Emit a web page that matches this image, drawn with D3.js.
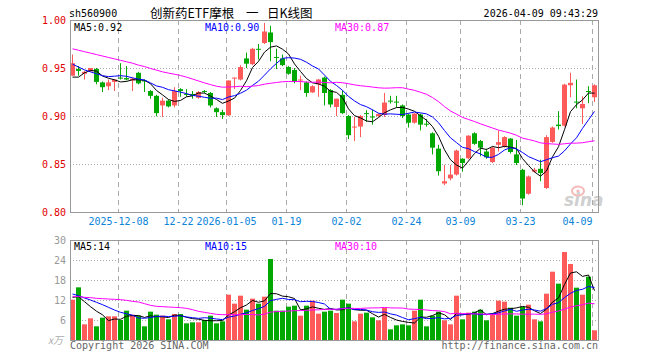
<!DOCTYPE html>
<html>
<head>
<meta charset="utf-8">
<script src="https://cdn.jsdelivr.net/npm/d3@7"></script>
<style>
body { margin: 0; background: #fff; }
text { font-family: "DejaVu Sans Mono", monospace; font-size: 10px; }
</style>
</head>
<body>
<svg id="chart" width="660" height="360"></svg>
<script>
// daily candles, 2025-11-26 .. 2026-04-09 (88 trading days)
var opens = [0.942,0.949,0.944,0.9465,0.949,0.935,0.931,0.9355,0.940,0.9395,
  0.937,0.945,0.937,0.926,0.921,0.911,0.916,0.911,0.928,0.923,
  0.923,0.919,0.926,0.924,0.908,0.904,0.9007,0.939,0.938,0.960,
  0.954,0.970,0.976,0.987,0.9615,0.960,0.951,0.948,0.937,0.935,
  0.9246,0.933,0.940,0.927,0.9094,0.922,0.900,0.888,0.889,0.903,
  0.8995,0.900,0.901,0.916,0.915,0.911,0.9015,0.893,0.9015,0.892,
  0.882,0.866,0.8297,0.835,0.839,0.8555,0.856,0.882,0.874,0.863,
  0.852,0.870,0.868,0.8765,0.860,0.844,0.819,0.842,0.845,0.825,
  0.873,0.891,0.890,0.932,0.915,0.908,0.926,0.9195];
var highs = [0.964,0.952,0.947,0.950,0.950,0.936,0.938,0.938,0.955,0.952,
  0.940,0.946,0.938,0.927,0.922,0.919,0.917,0.930,0.929,0.928,
  0.926,0.926,0.927,0.925,0.909,0.9065,0.937,0.940,0.953,0.966,
  0.971,0.975,0.997,0.994,0.970,0.964,0.952,0.950,0.942,0.936,
  0.932,0.9385,0.941,0.928,0.918,0.927,0.901,0.899,0.901,0.906,
  0.9065,0.903,0.924,0.921,0.921,0.912,0.9025,0.903,0.9025,0.897,
  0.883,0.870,0.849,0.849,0.865,0.856,0.880,0.883,0.875,0.866,
  0.868,0.8847,0.879,0.877,0.875,0.845,0.838,0.846,0.8545,0.880,
  0.889,0.905,0.9335,0.945,0.938,0.9205,0.931,0.933];
var lows = [0.942,0.942,0.938,0.946,0.933,0.925,0.927,0.926,0.938,0.937,
  0.926,0.933,0.925,0.918,0.8997,0.899,0.909,0.909,0.920,0.920,
  0.918,0.918,0.924,0.909,0.899,0.897,0.900,0.928,0.937,0.950,
  0.953,0.959,0.975,0.957,0.949,0.952,0.943,0.934,0.927,0.920,
  0.924,0.920,0.911,0.909,0.900,0.902,0.876,0.874,0.878,0.894,
  0.891,0.899,0.899,0.913,0.909,0.898,0.888,0.892,0.885,0.889,
  0.860,0.838,0.828,0.833,0.838,0.842,0.855,0.870,0.858,0.8555,
  0.851,0.863,0.867,0.861,0.849,0.807,0.818,0.841,0.832,0.824,
  0.872,0.886,0.889,0.9195,0.908,0.8917,0.9135,0.9146];
var closes = [0.955,0.947,0.946,0.950,0.9355,0.930,0.935,0.938,0.939,0.938,
  0.939,0.934,0.936,0.921,0.903,0.916,0.910,0.926,0.926,0.922,
  0.921,0.925,0.925,0.911,0.904,0.901,0.937,0.940,0.951,0.9545,
  0.970,0.969,0.988,0.977,0.961,0.953,0.944,0.936,0.938,0.924,
  0.931,0.938,0.924,0.912,0.918,0.903,0.880,0.889,0.900,0.902,
  0.899,0.902,0.914,0.915,0.914,0.900,0.893,0.9025,0.891,0.8915,
  0.867,0.8425,0.832,0.839,0.864,0.851,0.8795,0.871,0.867,0.857,
  0.867,0.8728,0.878,0.8625,0.851,0.814,0.837,0.844,0.8405,0.878,
  0.888,0.8895,0.9327,0.9345,0.9145,0.9125,0.9255,0.932];
// volume, x万
var volumes = [12.1,15.8,4.7,6.5,4.1,6.7,7.1,7.1,6.0,8.8,
  7.6,7.3,4.1,8.5,7.6,7.3,6.2,7.8,7.8,5.0,
  5.3,5.3,6.0,7.3,5.0,5.6,13.6,10.9,13.3,9.1,
  12.4,10.9,13.0,24.3,8.8,8.8,10.0,10.3,7.3,10.3,
  11.8,7.9,8.5,8.8,8.1,12.1,10.9,5.6,7.9,8.2,
  6.8,5.9,9.7,3.2,4.4,4.7,4.4,8.8,12.1,4.1,
  7.3,8.5,5.9,4.7,13.3,6.2,8.2,8.5,9.1,5.9,
  7.9,11.8,11.5,9.7,7.3,10.0,10.6,6.2,5.6,13.9,
  20.5,16.9,26.4,22.8,15.7,13.6,19.0,2.9];

// moving average values before a full window exists
var ma5Head = [0.9405,0.9405,0.945,0.9475];
var ma10Head = [0.954,0.951,0.948,0.946,0.944,0.942,0.941,0.9415,0.942];
var ma30Head = [0.970,0.9685,0.967,0.9655,0.964,0.9625,0.961,0.9595,0.958,0.9565,
  0.955,0.953,0.9515,0.9495,0.9478,0.946,0.9447,0.9435,0.9422,0.9405,
  0.9385,0.9365,0.9345,0.9327,0.931,0.930,0.9302,0.9305,0.931];
var volMa5Head = [12.8,13.0,11.5,10.0];
var volMa10Head = [13.8,13.3,12.6,12.0,11.3,10.6,9.8,9.0,8.3];
var volMa30Head = [13.1,13.0,12.8,12.7,12.5,12.4,12.3,12.2,12.1,11.9,
  11.6,11.4,10.9,10.4,10.1,10.0,9.9,9.8,9.7,9.5,
  9.1,8.6,8.3,8.0,7.7,7.6,7.6,7.6,7.6];

var dateTicks = [8,18,26,36,46,56,65,75,87];
var dateLabels = ["2025-12-08","12-22","2026-01-05","01-19","02-02","02-24","03-09","03-23","04-09"];
var priceTicks = [0.80,0.85,0.90,0.95,1.00];
var volTicks = [6,12,18,24,30];

var code = "sh560900",
    title = ["创新药ETF摩根", "一", "日K线图"],
    stamp = "2026-04-09 09:43:29";

var left = 70, right = 598,
    pTop = 20, pBot = 212,
    vTop = 240, vBot = 340,
    n = closes.length;

var red = "#ff5a5a", green = "#00a800",
    maColors = ["#000", "#0000ff", "#ff00ff"];

function movAvg(vals, k, head) {
  return vals.map(function(v, i) {
    return i < k - 1 ? head[i] : d3.mean(vals.slice(i - k + 1, i + 1));
  });
}

var x = d3.scaleLinear().domain([0, n]).range([left, right]);
var y = d3.scaleLinear().domain([0.80, 1.00]).range([pBot, pTop]);
var yv = d3.scaleLinear().domain([0, 30]).range([vBot, vTop]);

var svg = d3.select("#chart");

// header
svg.append("text").attr("x", 69).attr("y", 17).text(code);
var t = svg.append("text").attr("y", 18)
  .style("font-family", "'Noto Sans CJK SC'").style("font-size", "12.5px");
t.append("tspan").attr("x", 150).text(title[0]);
t.append("tspan").attr("x", 246).text(title[1]);
t.append("tspan").attr("x", 267).text(title[2]);
svg.append("text").attr("x", right).attr("y", 17).attr("text-anchor", "end").text(stamp);

// grid
svg.selectAll(".hgrid").data(priceTicks.slice(1, -1)).enter().append("line")
  .attr("x1", left).attr("x2", right)
  .attr("y1", function(d) { return Math.round(y(d)) + 0.5; })
  .attr("y2", function(d) { return Math.round(y(d)) + 0.5; })
  .attr("stroke", "#aaa").attr("stroke-dasharray", "1,2");
svg.selectAll(".vgrid").data(volTicks.slice(0, -1)).enter().append("line")
  .attr("x1", left).attr("x2", right)
  .attr("y1", function(d) { return Math.round(yv(d)) + 0.5; })
  .attr("y2", function(d) { return Math.round(yv(d)) + 0.5; })
  .attr("stroke", "#aaa").attr("stroke-dasharray", "1,2");
[[pTop, pBot], [vTop, vBot]].forEach(function(r) {
  svg.append("g").selectAll("line").data(dateTicks).enter().append("line")
    .attr("x1", function(d) { return x(d) + 0.5; })
    .attr("x2", function(d) { return x(d) + 0.5; })
    .attr("y1", r[0]).attr("y2", r[1])
    .attr("stroke", "#aaa").attr("stroke-dasharray", "5,4");
});

// watermark
var wm = svg.append("g").attr("opacity", 0.55);
wm.append("ellipse").attr("cx", 578).attr("cy", 191).attr("rx", 6).attr("ry", 4.5)
  .attr("fill", "none").attr("stroke", "#f08080").attr("stroke-width", 2);
wm.append("circle").attr("cx", 578).attr("cy", 191).attr("r", 1.6).attr("fill", "#f08080");
wm.append("text").attr("x", 564).attr("y", 206)
  .style("font-family", "'DejaVu Sans'").style("font-size", "17px")
  .style("font-weight", "bold").style("font-style", "italic")
  .attr("fill", "#aaa").text("sina");

// candles
var candle = svg.append("g").selectAll("g").data(closes).enter().append("g");
candle.append("line")
  .attr("x1", function(d, i) { return x(i) + 2.5; })
  .attr("x2", function(d, i) { return x(i) + 2.5; })
  .attr("y1", function(d, i) { return y(highs[i]); })
  .attr("y2", function(d, i) { return y(lows[i]); })
  .attr("stroke", function(d, i) { return d >= opens[i] ? red : green; });
candle.append("rect")
  .attr("x", function(d, i) { return x(i); })
  .attr("width", 5)
  .attr("y", function(d, i) { return y(Math.max(d, opens[i])); })
  .attr("height", function(d, i) { return Math.max(1, Math.abs(y(d) - y(opens[i]))); })
  .attr("fill", function(d, i) { return d >= opens[i] ? red : green; });

// volume bars
svg.append("g").selectAll("rect").data(volumes).enter().append("rect")
  .attr("x", function(d, i) { return x(i); })
  .attr("width", 5)
  .attr("y", function(d) { return yv(d); })
  .attr("height", function(d) { return vBot - yv(d); })
  .attr("fill", function(d, i) { return closes[i] >= opens[i] ? red : green; });

// moving averages
var priceMa = [movAvg(closes, 5, ma5Head), movAvg(closes, 10, ma10Head), movAvg(closes, 30, ma30Head)];
var volMa = [movAvg(volumes, 5, volMa5Head), movAvg(volumes, 10, volMa10Head), movAvg(volumes, 30, volMa30Head)];

priceMa.forEach(function(s, k) {
  svg.append("path").datum(s)
    .attr("fill", "none").attr("stroke", maColors[k])
    .attr("d", d3.line().x(function(d, i) { return x(i) + 2.5; }).y(function(d) { return y(d); }));
});
volMa.forEach(function(s, k) {
  svg.append("path").datum(s)
    .attr("fill", "none").attr("stroke", maColors[k])
    .attr("d", d3.line().x(function(d, i) { return x(i) + 2.5; }).y(function(d) { return yv(d); }));
});

// frames
svg.append("rect").attr("x", left + 0.5).attr("y", pTop + 0.5)
  .attr("width", right - left).attr("height", pBot - pTop)
  .attr("fill", "none").attr("stroke", "#999");
svg.append("rect").attr("x", left + 0.5).attr("y", vTop + 0.5)
  .attr("width", right - left).attr("height", vBot - vTop)
  .attr("fill", "none").attr("stroke", "#999");

// MA legends
var maNames = ["MA5:", "MA10:", "MA30:"], maX = [74, 205, 335];
priceMa.forEach(function(s, k) {
  svg.append("text").attr("x", maX[k]).attr("y", 31).attr("fill", maColors[k])
    .text(maNames[k] + d3.format(".2f")(s[n - 1]));
});
volMa.forEach(function(s, k) {
  svg.append("text").attr("x", maX[k]).attr("y", 250).attr("fill", maColors[k])
    .text(maNames[k] + Math.floor(s[n - 1]));
});

// axes
var pAxis = svg.append("g").attr("transform", "translate(" + left + ",0)")
  .call(d3.axisLeft(y).tickValues(priceTicks).tickSize(0).tickPadding(4).tickFormat(d3.format(".2f")));
pAxis.select(".domain").remove();
pAxis.selectAll("text").attr("fill", "#e00000").style("font-family", "'DejaVu Sans Mono'").style("font-size", "10px");

var vAxis = svg.append("g").attr("transform", "translate(" + left + ",0)")
  .call(d3.axisLeft(yv).tickValues(volTicks).tickSize(0).tickPadding(4));
vAxis.select(".domain").remove();
vAxis.selectAll("text").attr("fill", "#999").style("font-family", "'DejaVu Sans Mono'").style("font-size", "10px");

var xAxis = svg.append("g").attr("transform", "translate(0," + pBot + ")")
  .call(d3.axisBottom(x).tickValues(dateTicks).tickSize(0).tickPadding(6)
    .tickFormat(function(d, k) { return dateLabels[k]; }));
xAxis.select(".domain").remove();
xAxis.selectAll("text").attr("fill", "#0a84d8").style("font-family", "'DejaVu Sans Mono'").style("font-size", "10px");
// last date label sits left of its line so it stays inside the frame
xAxis.selectAll("text").filter(function(d, k) { return k === dateTicks.length - 1; })
  .attr("text-anchor", "end");

svg.append("text").attr("x", 63).attr("y", 344).attr("text-anchor", "end")
  .attr("fill", "#aaa").style("font-family", "'Noto Sans CJK SC'").style("font-size", "10px")
  .style("font-style", "italic").text("x万");

// footer
svg.append("text").attr("x", 70).attr("y", 349).attr("fill", "#666").text("Copyright 2026 SINA.COM");
svg.append("text").attr("x", right).attr("y", 349).attr("text-anchor", "end").attr("fill", "#666")
  .text("http://finance.sina.com.cn");
</script>
</body>
</html>
